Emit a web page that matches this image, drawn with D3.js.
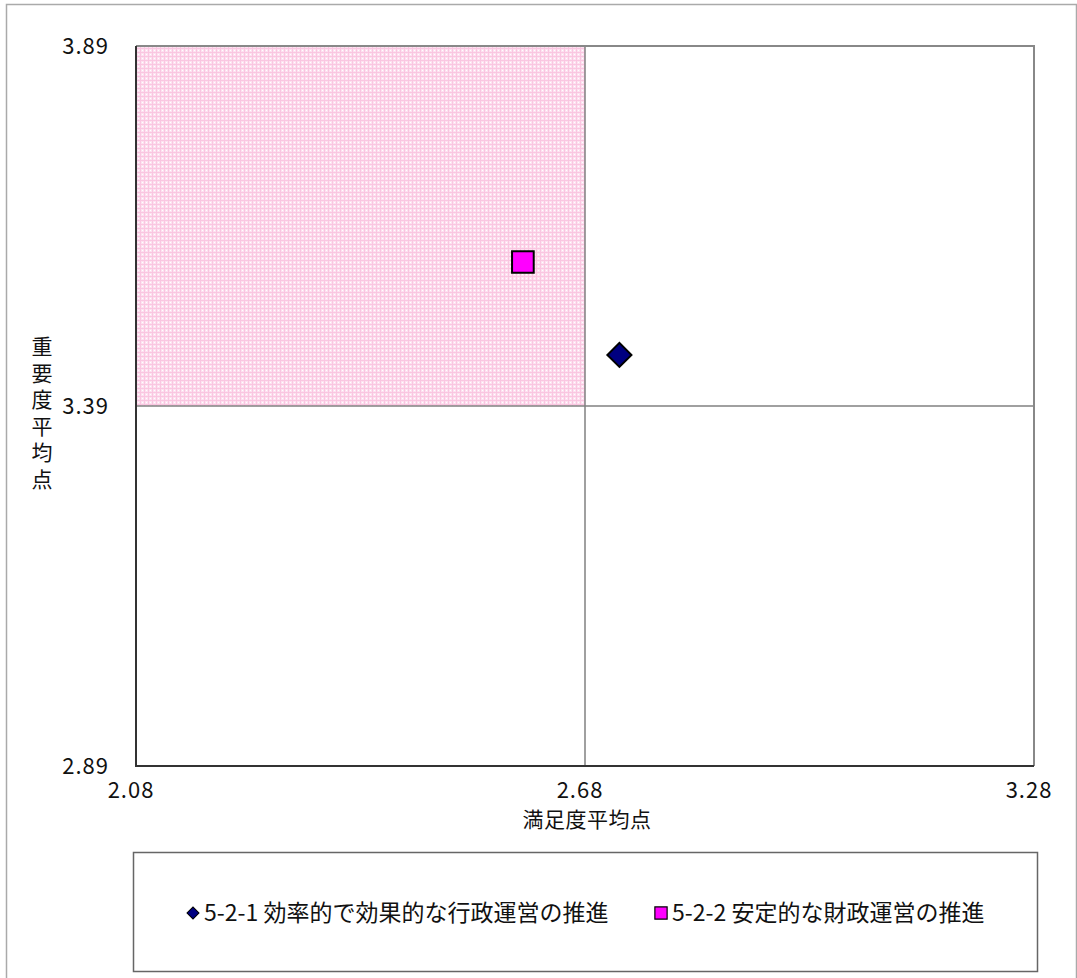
<!DOCTYPE html>
<html><head><meta charset="utf-8">
<script src="https://cdn.jsdelivr.net/npm/d3@7"></script>
<style>body{margin:0;background:#fff}svg{display:block}text{font-family:"Noto Sans CJK JP","Noto Sans",sans-serif;fill:#111}</style>
</head><body>
<script>
// Data
const seriesNames = ["5-2-1 効率的で効果的な行政運営の推進", "5-2-2 安定的な財政運営の推進"];
const satisfaction = [2.726, 2.597];   // x: 満足度平均点
const importance   = [3.461, 3.590];   // y: 重要度平均点
const seriesColors = ["#000080", "#ff00ff"];
const seriesShapes = ["diamond", "square"];
const xTicks = [2.08, 2.68, 3.28];
const yTicks = [2.89, 3.39, 3.89];
const xTitle = "満足度平均点";
const yTitle = "重要度平均点";

const W = 1077, H = 978;
const svg = d3.select("body").append("svg").attr("width", W).attr("height", H);

const defs = svg.append("defs");
const pat = defs.append("pattern").attr("id","pinkgrid").attr("patternUnits","userSpaceOnUse").attr("width",4).attr("height",4);
pat.append("rect").attr("width",4).attr("height",4).attr("fill","#fde1f0");
pat.append("rect").attr("x",0).attr("y",0).attr("width",4).attr("height",1).attr("fill","#fac6e1");
pat.append("rect").attr("x",0).attr("y",0).attr("width",1).attr("height",4).attr("fill","#fac6e1");
pat.append("rect").attr("x",2).attr("y",2).attr("width",1).attr("height",1).attr("fill","#ffffff");

// outer chart border
svg.append("path").attr("d", `M6.5,${H+2} V4.5 H1076.5 V${H+2}`).attr("fill","none").attr("stroke","#aaaaaa").attr("stroke-width",1.5);

const L = 136, R = 1034, T = 46, B = 766;
const x = d3.scaleLinear().domain([xTicks[0], xTicks[2]]).range([L, R]);
const y = d3.scaleLinear().domain([yTicks[0], yTicks[2]]).range([B, T]);

// shaded quadrant (low satisfaction, high importance)
svg.append("rect").attr("x", x(xTicks[0])).attr("y", y(yTicks[2]))
  .attr("width", x(xTicks[1]) - x(xTicks[0])).attr("height", y(yTicks[1]) - y(yTicks[2]))
  .attr("fill","url(#pinkgrid)");

// midlines
svg.append("line").attr("x1", x(xTicks[1])).attr("x2", x(xTicks[1])).attr("y1", T).attr("y2", B).attr("stroke","#808080").attr("stroke-width",1.5);
svg.append("line").attr("x1", L).attr("x2", R).attr("y1", y(yTicks[1])).attr("y2", y(yTicks[1])).attr("stroke","#808080").attr("stroke-width",1.5);

// plot border (top/right gray)
svg.append("path").attr("d", `M${L},${T} H${R} V${B}`).attr("fill","none").attr("stroke","#888888").attr("stroke-width",2);
// axes lines (left/bottom dark)
svg.append("path").attr("d", `M${L},${T} V${B} H${R}`).attr("fill","none").attr("stroke","#333333").attr("stroke-width",2);

// tick labels
svg.append("g").selectAll("text").data(yTicks).join("text")
  .attr("x", 109).attr("y", d => y(d)).attr("dy","0.36em").attr("text-anchor","end")
  .attr("font-size", 22).attr("letter-spacing", 1).text(d => d.toFixed(2));
svg.append("g").selectAll("text").data(xTicks).join("text")
  .attr("x", d => x(d) - 5).attr("y", 790).attr("dy","0.36em").attr("text-anchor","middle")
  .attr("font-size", 22).attr("letter-spacing", 1).text(d => d.toFixed(2));

// axis titles
svg.append("text").attr("x", 587).attr("y", 819).attr("dy","0.36em").attr("text-anchor","middle").attr("font-size",21).attr("letter-spacing",0.5).text(xTitle);
svg.append("text").attr("x", 42).attr("y", 336).attr("writing-mode","tb").attr("font-size",21).attr("letter-spacing",5.5).text(yTitle);

// markers
const pts = satisfaction.map((v,i) => ({x:v, y:importance[i], c:seriesColors[i], s:seriesShapes[i]}));
svg.append("g").selectAll("path").data(pts).join("path")
  .attr("d", d => d.s === "diamond" ? d3.symbol(d3.symbolSquare, 290)() : d3.symbol(d3.symbolSquare, 470)())
  .attr("transform", d => `translate(${x(d.x)},${y(d.y)})` + (d.s === "diamond" ? " rotate(45)" : ""))
  .attr("fill", d => d.c).attr("stroke","#000").attr("stroke-width",2);

// legend
svg.append("rect").attr("x",133.5).attr("y",852.5).attr("width",904).attr("height",119).attr("fill","#fff").attr("stroke","#666").attr("stroke-width",1.5);
const legX = [193, 661];
const lg = svg.append("g");
seriesNames.forEach((n,i) => {
  const cx = legX[i], cy = 913;
  if (seriesShapes[i] === "diamond") {
    lg.append("path").attr("d", d3.symbol(d3.symbolSquare, 72)()).attr("transform",`translate(${cx},${cy}) rotate(45)`).attr("fill",seriesColors[i]).attr("stroke","#000").attr("stroke-width",1);
  } else {
    lg.append("path").attr("d", d3.symbol(d3.symbolSquare, 150)()).attr("transform",`translate(${cx},${cy})`).attr("fill",seriesColors[i]).attr("stroke","#000").attr("stroke-width",1.2);
  }
  lg.append("text").attr("x", cx + 11).attr("y", cy).attr("dy","0.36em").attr("font-size",23).text(n);
});
</script>
</body></html>
